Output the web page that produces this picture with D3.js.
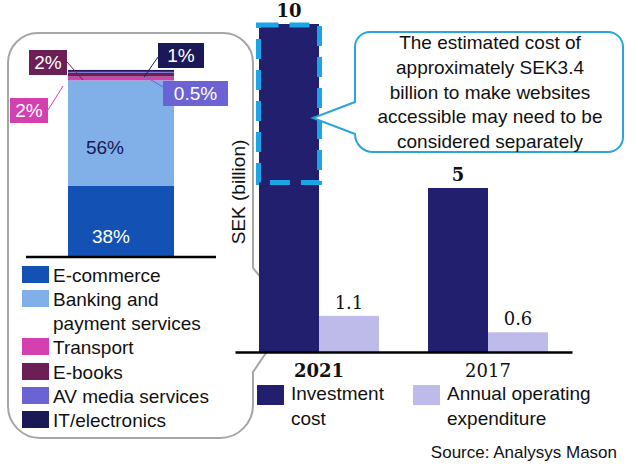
<!DOCTYPE html>
<html><head><meta charset="utf-8">
<script src="https://cdn.jsdelivr.net/npm/d3@7"></script>
<style>
html,body{margin:0;padding:0;background:#fff;}
svg{display:block;}
text{font-family:"Liberation Sans",Arial,sans-serif;}
</style></head>
<body>
<svg id="chart" width="638" height="471"></svg>
<script>
// ---- data ----
const years = ["2021", "2017"];
const seriesNames = ["Investment cost", "Annual operating expenditure"];
const investment = [10, 5];
const opex = [1.1, 0.6];
const investmentLabels = ["10", "5"];
const opexLabels = ["1.1", "0.6"];
const accessibleRange = [5.2, 10];   // dashed highlight on 2021 investment bar

const sectors = ["E-commerce", "Banking and payment services", "Transport", "E-books", "AV media services", "IT/electronics"];
const shares = [38, 56, 2, 2, 0.5, 1];
const shareLabels = ["38%", "56%", "2%", "2%", "0.5%", "1%"];

const calloutLines = ["The estimated cost of", "approximately SEK3.4", "billion to make websites", "accessible may need to be", "considered separately"];

// ---- styles ----
const mainColors = ["#221f6f", "#bebae9"];
const sectorColors = ["#1351b4", "#81afe7", "#d540b0", "#6c1f55", "#6b63d3", "#1b1858"];

const svg = d3.select("#chart");

// ---- left panel outline ----
svg.append("path")
  .attr("d", "M38,33 H223 A30,30 0 0 1 253,63 V268 L268,286 V350 L253,372 V405 A33,33 0 0 1 220,438 H40 A32,32 0 0 1 8,406 V63 A30,30 0 0 1 38,33 Z")
  .attr("fill", "#fff").attr("stroke", "#a6a6a6").attr("stroke-width", 2);

// ---- main chart ----
const x = d3.scaleBand().domain(years).range([235, 572]).paddingInner(0.29).paddingOuter(0.142);
const xs = d3.scaleBand().domain(seriesNames).range([0, x.bandwidth()]);
const y = d3.scaleLinear().domain([0, 10]).range([352, 24]);

const data = years.map((yr, i) => ({year: yr, vals: [investment[i], opex[i]], labels: [investmentLabels[i], opexLabels[i]]}));

const g = svg.append("g");
const groups = g.selectAll("g.grp").data(data).join("g")
  .attr("transform", d => `translate(${x(d.year)},0)`);

groups.selectAll("rect").data(d => d.vals.map((v, j) => ({v, j}))).join("rect")
  .attr("x", d => xs(seriesNames[d.j]))
  .attr("width", xs.bandwidth())
  .attr("y", d => y(d.v))
  .attr("height", d => y(0) - y(d.v))
  .attr("fill", d => mainColors[d.j]);

groups.selectAll("text.val").data(d => d.vals.map((v, j) => ({v, j, l: d.labels[j]}))).join("text")
  .attr("class", "val")
  .attr("x", d => xs(seriesNames[d.j]) + xs.bandwidth() / 2)
  .attr("y", d => y(d.v) - 7)
  .attr("text-anchor", "middle")
  .style("font-family", "'DejaVu Serif', serif")
  .style("font-size", "18px")
  .style("font-weight", d => d.j === 0 ? "bold" : "normal")
  .attr("fill", "#111")
  .text(d => d.l);

// dashed highlight
const hx = x("2021") + xs(seriesNames[0]);
svg.append("rect")
  .attr("x", hx - 0.5).attr("width", xs.bandwidth() + 1)
  .attr("y", y(accessibleRange[1]) + 1).attr("height", y(accessibleRange[0]) - y(accessibleRange[1]))
  .attr("fill", "none").attr("stroke", "#1ca5e6").attr("stroke-width", 5)
  .attr("stroke-dasharray", "20,11");

// x axis
const xAxis = svg.append("g").attr("transform", `translate(0,${y(0)})`)
  .call(d3.axisBottom(x).tickSize(0).tickPadding(0));
xAxis.select(".domain").attr("stroke", "#000").attr("stroke-width", 2.5);
xAxis.selectAll(".tick text")
  .attr("dy", null).attr("y", 25)
  .style("font-family", "'DejaVu Serif', serif")
  .style("font-size", "18px")
  .style("font-weight", d => d === "2021" ? "bold" : "normal")
  .attr("fill", "#111");

// y axis title
svg.append("text")
  .attr("transform", "translate(245,192) rotate(-90)")
  .attr("text-anchor", "middle")
  .style("font-size", "19px").attr("fill", "#111")
  .text("SEK (billion)");

// legend bottom
const legX = [257, 413];
seriesNames.forEach((s, i) => {
  svg.append("rect").attr("x", legX[i]).attr("y", 385).attr("width", 27).attr("height", 20).attr("fill", mainColors[i]);
  const lines = i === 0 ? ["Investment", "cost"] : ["Annual operating", "expenditure"];
  lines.forEach((t, k) => {
    svg.append("text").attr("x", legX[i] + 34).attr("y", 400 + k * 25)
      .style("font-size", "19px").attr("fill", "#111").text(t);
  });
});

// source
svg.append("text").attr("x", 617).attr("y", 458).attr("text-anchor", "end")
  .style("font-size", "17px").attr("fill", "#111").text("Source: Analysys Mason");

// callout
svg.append("path")
  .attr("d", "M370,32 H608 A15,15 0 0 1 623,47 V137 A15,15 0 0 1 608,152 H373 A18,18 0 0 1 355,134 L313,118 L355,102 V47 A15,15 0 0 1 370,32 Z")
  .attr("fill", "#fff").attr("stroke", "#29a4dd").attr("stroke-width", 2);
calloutLines.forEach((t, i) => {
  svg.append("text").attr("x", 490).attr("y", 49 + i * 24.8).attr("text-anchor", "middle")
    .style("font-size", "19px").attr("fill", "#111").text(t);
});

// ---- left stacked bar ----
const xl = d3.scaleBand().domain(["share"]).range([26, 216]).paddingOuter(0.396);
const yl = d3.scaleLinear().domain([0, 100]).range([257, 69]);
let cum = 0;
const stackData = shares.map((v, i) => { const d = {i, v, y0: cum, y1: cum + v}; cum += v; return d; });

svg.append("g").selectAll("rect").data(stackData).join("rect")
  .attr("x", xl("share")).attr("width", xl.bandwidth())
  .attr("y", d => yl(d.y1)).attr("height", d => yl(d.y0) - yl(d.y1))
  .attr("fill", d => sectorColors[d.i]);

svg.append("line").attr("x1", 26).attr("x2", 216).attr("y1", yl(0)).attr("y2", yl(0))
  .attr("stroke", "#000").attr("stroke-width", 2.5);

// inside labels
const cx = xl("share") + xl.bandwidth() / 2;
const inside = [{i: 0, dx: -10, y: 243, fill: "#fff"}, {i: 1, dx: -16, y: 154, fill: "#1b1858"}];
inside.forEach(o => {
  svg.append("text").attr("x", cx + o.dx).attr("y", o.y).attr("text-anchor", "middle")
    .style("font-size", "19px").attr("fill", o.fill).text(shareLabels[o.i]);
});

// boxed labels with leaders
const boxes = [
  {i: 3, bx: 29, by: 50, bw: 38, lx1: 67, ly1: 62, lx2: 83, ly2: 80},
  {i: 2, bx: 10, by: 98, bw: 38, lx1: 48, ly1: 110, lx2: 63, ly2: 86},
  {i: 5, bx: 158, by: 43, bw: 46, lx1: 158, ly1: 57, lx2: 144, ly2: 77},
  {i: 4, bx: 163, by: 81, bw: 65, lx1: 146, ly1: 77, lx2: 163, ly2: 87}
];
boxes.forEach(b => {
  svg.append("line").attr("x1", b.lx1).attr("y1", b.ly1).attr("x2", b.lx2).attr("y2", b.ly2)
    .attr("stroke", sectorColors[b.i]).attr("stroke-width", 1);
  svg.append("rect").attr("x", b.bx).attr("y", b.by).attr("width", b.bw).attr("height", 25).attr("fill", sectorColors[b.i]);
  svg.append("text").attr("x", b.bx + b.bw / 2).attr("y", b.by + 19).attr("text-anchor", "middle")
    .style("font-size", "19px").attr("fill", "#fff").text(shareLabels[b.i]);
});

// left legend
const legendRows = [
  {i: 0, y: 266, lines: ["E-commerce"]},
  {i: 1, y: 290, lines: ["Banking and", "payment services"]},
  {i: 2, y: 338, lines: ["Transport"]},
  {i: 3, y: 363, lines: ["E-books"]},
  {i: 4, y: 387, lines: ["AV media services"]},
  {i: 5, y: 411, lines: ["IT/electronics"]}
];
legendRows.forEach(r => {
  svg.append("rect").attr("x", 22).attr("y", r.y).attr("width", 27).attr("height", 17).attr("fill", sectorColors[r.i]);
  r.lines.forEach((t, k) => {
    svg.append("text").attr("x", 53).attr("y", r.y + 16 + k * 24)
      .style("font-size", "19px").attr("fill", "#111").text(t);
  });
});
</script>
</body></html>
